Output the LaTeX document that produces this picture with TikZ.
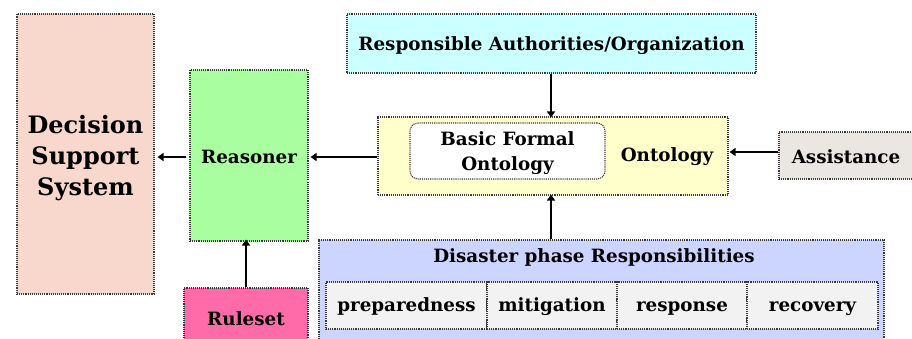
\documentclass[tikz,border=0pt]{standalone}
\usepackage{fontspec}
\setmainfont{DejaVu Serif}
\usetikzlibrary{arrows.meta}
\definecolor{dssfill}{HTML}{F8D8CC}
\definecolor{reasfill}{HTML}{A9FFA0}
\definecolor{rulefill}{HTML}{FF6BA8}
\definecolor{authfill}{HTML}{CCFFFF}
\definecolor{ontofill}{HTML}{FFFFCC}
\definecolor{assistfill}{HTML}{EAE6E1}
\definecolor{phasefill}{HTML}{CCD5FF}
\definecolor{cellfill}{HTML}{F2F2F2}
\definecolor{edge}{HTML}{3A3A3A}
\tikzset{
  box/.style={draw=edge, densely dotted, line width=1.1pt, inner sep=0pt,
    align=center, font=\bfseries\fontsize{18.3}{25}\selectfont},
  cell/.style={box, fill=cellfill, minimum height=47pt, text height=15pt, text depth=3pt},
  label/.style={inner sep=0pt, align=center, font=\bfseries\fontsize{18.3}{25}\selectfont},
  link/.style={line width=2.6pt, -{Triangle[length=6pt,width=8pt]}},
}
\begin{document}
\begin{tikzpicture}[x=1pt,y=-1pt]
\useasboundingbox (0,0) rectangle (912,339);
\clip (0,0) rectangle (912,339);
\fill[white] (0,0) rectangle (912,339);

% left column: decision support, reasoner and ruleset
\node[box, fill=dssfill, minimum width=137pt, minimum height=280pt] (dss) at (85.5,154) {};
\node[label, font=\bfseries\fontsize{24}{31}\selectfont] (dsslabel) at (85.5,158) {Decision\\Support\\System};
\node[box, fill=reasfill, minimum width=118pt, minimum height=171pt] (reas) at (249,155.5) {};
\node[label] (reaslabel) at (249,157) {Reasoner};
\node[box, fill=rulefill, minimum width=124pt, minimum height=60pt] (rule) at (246,318) {};
\node[label] (rulelabel) at (246,319) {Ruleset};

% authorities and the ontology block
\node[box, fill=authfill, minimum width=409pt, minimum height=59pt] (auth) at (551.5,43.5) {};
\node[label] (authlabel) at (551.5,46) {Responsible Authorities/Organization};
\node[box, fill=ontofill, minimum width=350pt, minimum height=78pt] (onto) at (553,156) {};
\node[box, fill=white, rounded corners=8pt, minimum width=195pt, minimum height=56pt] (bfo) at (507.5,151) {};
\node[label] (bfolabel) at (507.5,153) {Basic Formal\\Ontology};
\node[label] (ontolabel) at (667,157) {Ontology};
\node[box, fill=assistfill, minimum width=141pt, minimum height=47pt] (assist) at (849.5,155.5) {};
\node[label] (assistlabel) at (846,157) {Assistance};

% disaster phases
\node[box, fill=phasefill, minimum width=565pt, minimum height=110pt] (phase) at (601.5,295) {};
\node[label] (phasetitle) at (594,257.5) {Disaster phase Responsibilities};
\node[cell, minimum width=161pt] (prep) at (406.5,305.5) {preparedness};
\node[cell, minimum width=130pt] (miti) at (552,305.5) {mitigation};
\node[cell, minimum width=130pt] (resp) at (682,305.5) {response};
\node[cell, minimum width=131pt] (reco) at (812.5,305.5) {recovery};

% connectors
\coordinate (row) at (0,157);
\draw[link] ([xshift=-3pt]reas.west |- row) -- ([xshift=3pt]dss.east |- row);
\draw[link] (onto.west |- row) -- ([xshift=2pt]reas.east |- row);
\draw[link] ([xshift=-2pt]auth.south -| onto.north) -- ([xshift=-2pt,yshift=-1pt]onto.north);
\draw[link] ([xshift=-2pt]phase.north -| onto.south) -- ([xshift=-2pt,yshift=1pt]onto.south);
\draw[link] (assist.west |- 0,152) -- ([xshift=1pt]onto.east |- 0,152);
\draw[link] (rule.north) -- ([yshift=2pt]reas.south -| rule.north);
\end{tikzpicture}
\end{document}
